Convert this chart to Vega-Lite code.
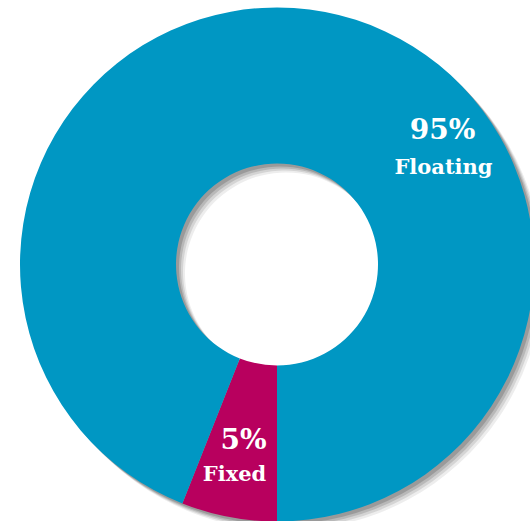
{
  "$schema": "https://vega.github.io/schema/vega-lite/v6.json",
  "width": 530,
  "height": 521,
  "autosize": "none",
  "padding": {"left": 12, "top": 4, "right": 0, "bottom": 0},
  "background": "white",
  "view": {"stroke": null},
  "data": {
    "values": [
      {"segment": "Fixed", "share": 6, "label": "5%", "order": 1},
      {"segment": "Floating", "share": 94, "label": "95%", "order": 2}
    ]
  },
  "transform": [
    {"stack": "share", "groupby": [], "sort": [{"field": "order"}], "as": ["s0", "s1"]},
    {"calculate": "(datum.s0 + datum.s1) / 2", "as": "mid"}
  ],
  "encoding": {
    "theta": {"field": "s0", "type": "quantitative", "scale": {"domain": [0, 100], "range": [3.14159265, 9.42477796]}},
    "theta2": {"field": "s1"}
  },
  "layer": [
    {"mark": {"type": "arc", "innerRadius": 101, "outerRadius": 257, "color": "#000000", "opacity": 0.07, "xOffset": 9, "yOffset": 9}},
    {"mark": {"type": "arc", "innerRadius": 101, "outerRadius": 257, "color": "#000000", "opacity": 0.1, "xOffset": 7, "yOffset": 7}},
    {"mark": {"type": "arc", "innerRadius": 101, "outerRadius": 257, "color": "#000000", "opacity": 0.13, "xOffset": 5, "yOffset": 5}},
    {"mark": {"type": "arc", "innerRadius": 101, "outerRadius": 257, "color": "#000000", "opacity": 0.16, "xOffset": 3, "yOffset": 3}},
    {
      "mark": {"type": "arc", "innerRadius": 101, "outerRadius": 257},
      "encoding": {
        "color": {"field": "segment", "type": "nominal", "scale": {"domain": ["Fixed", "Floating"], "range": ["#B8005E", "#0097C3"]}, "legend": null}
      }
    },
    {
      "transform": [{"filter": "datum.segment == 'Floating'"}],
      "mark": {"type": "text", "radius": 200, "font": "DejaVu Serif", "fontWeight": "bold", "fontSize": 28, "color": "white", "align": "center", "baseline": "middle", "dx": 128, "dy": 63},
      "encoding": {"theta": {"field": "mid", "type": "quantitative"}, "theta2": null, "text": {"field": "label"}}
    },
    {
      "transform": [{"filter": "datum.segment == 'Floating'"}],
      "mark": {"type": "text", "radius": 200, "font": "DejaVu Serif", "fontWeight": "bold", "fontSize": 21, "color": "white", "align": "center", "baseline": "middle", "dx": 129, "dy": 100},
      "encoding": {"theta": {"field": "mid", "type": "quantitative"}, "theta2": null, "text": {"field": "segment"}}
    },
    {
      "transform": [{"filter": "datum.segment == 'Fixed'"}],
      "mark": {"type": "text", "radius": 200, "font": "DejaVu Serif", "fontWeight": "bold", "fontSize": 28, "color": "white", "align": "center", "baseline": "middle", "dx": 4, "dy": -20},
      "encoding": {"theta": {"field": "mid", "type": "quantitative"}, "theta2": null, "text": {"field": "label"}}
    },
    {
      "transform": [{"filter": "datum.segment == 'Fixed'"}],
      "mark": {"type": "text", "radius": 200, "font": "DejaVu Serif", "fontWeight": "bold", "fontSize": 21, "color": "white", "align": "center", "baseline": "middle", "dx": -5, "dy": 14},
      "encoding": {"theta": {"field": "mid", "type": "quantitative"}, "theta2": null, "text": {"field": "segment"}}
    }
  ]
}
